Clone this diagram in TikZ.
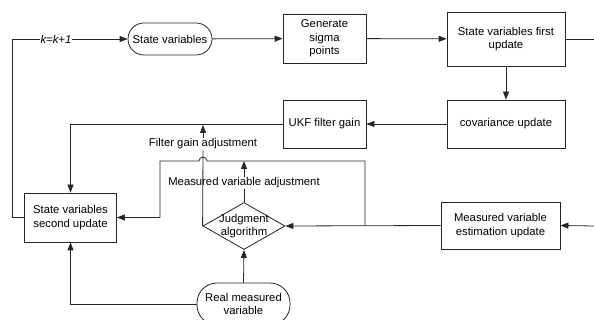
\documentclass[tikz,border=0pt]{standalone}
\usepackage{fontspec}
\setmainfont{Liberation Sans}
\usetikzlibrary{arrows.meta,shapes.geometric,calc}
\begin{document}
\begin{tikzpicture}[x=1pt,y=-1pt,
  every node/.style={font=\fontsize{11.3}{13.5}\selectfont, inner sep=1pt},
  lc/.style={draw=black!85, line width=0.8pt},
  box/.style={lc, rectangle, align=center, inner sep=0pt},
  term/.style={lc, rectangle, rounded corners=16pt, align=center, inner sep=0pt},
  arr/.style={lc, -{Triangle[length=8pt,width=6pt]}},
  ln/.style={lc},
  lbl/.style={fill=white, inner sep=1pt}]
\useasboundingbox (0,0) rectangle (594,320);
% nodes
\node[term, minimum width=84pt, minimum height=32pt] (sv) at (170,39) {State variables};
\node[box, minimum width=83pt, minimum height=49pt] (gen) at (324.5,38.5) {Generate\\sigma\\points};
\node[box, minimum width=118pt, minimum height=54pt] (fu) at (506,39) {State variables first\\update};
\node[box, minimum width=118pt, minimum height=48pt] (cov) at (506,124) {covariance update};
\node[box, minimum width=83pt, minimum height=48pt] (ukf) at (324.5,124) {UKF filter gain};
\node[box, minimum width=92pt, minimum height=49pt] (su) at (70.5,217.5) {State variables\\second update};
\node[lc, diamond, minimum width=82pt, minimum height=47pt, inner sep=0pt] (jd) at (244,226) {};
\node[align=center, inner sep=0pt] (jdt) at (244,226) {Judgment\\algorithm};
\node[box, minimum width=119pt, minimum height=47pt] (mest) at (500.5,225.5) {Measured variable\\estimation update};
\node[term, minimum width=93pt, minimum height=42pt, rounded corners=20pt] (rm) at (243.5,304) {Real measured\\variable};
\node[inner sep=1pt] (fga) at (203,144) {Filter gain adjustment};
\node[inner sep=1pt] (mva) at (244,183) {Measured variable adjustment};
% coordinates
\coordinate (lt) at (12,39);
\coordinate (re) at (594,39);
\coordinate (re2) at (594,226);
\coordinate (fgt) at (203,125);
\coordinate (br) at (365,226);
\coordinate (bt) at (365,161);
\coordinate (hr) at (207,161);
\coordinate (hl) at (199,161);
\coordinate (bl) at (160,161);
\coordinate (mvt) at (244,161);
% connectors
\draw[arr] (su.west) -| (lt) -- node[lbl, pos=0.38, font=\fontsize{11.3}{13.5}\selectfont\itshape] (kk) {k=k+1} (sv.west);
\draw[arr] (sv) -- (gen);
\draw[arr] (gen) -- (fu);
\draw[ln] (fu.east) -- (re);
\draw[arr] (fu) -- (cov);
\draw[arr] (cov) -- (ukf);
\draw[arr] (ukf.west) -| (su.north);
\draw[ln] (jd.west) -- (fga.south);
\draw[arr] (fga.north) -- (fgt);
\draw[arr] (mest.west) -- (jd.east);
\draw[ln] (br) -- (bt) -- (hr) arc[start angle=0, end angle=180, radius=4pt] -- (bl) |- (su.east);
\draw[arr] (bl |- su.east) -- (su.east);
\draw[ln] (jd.north) -- (mva.south);
\draw[arr] (mva.north) -- (mvt);
\draw[arr] (re2) -- (mest.east);
\draw[arr] (rm.north) -- (jd.south);
\draw[arr] (rm.west) -| (su.south);
\end{tikzpicture}
\end{document}
